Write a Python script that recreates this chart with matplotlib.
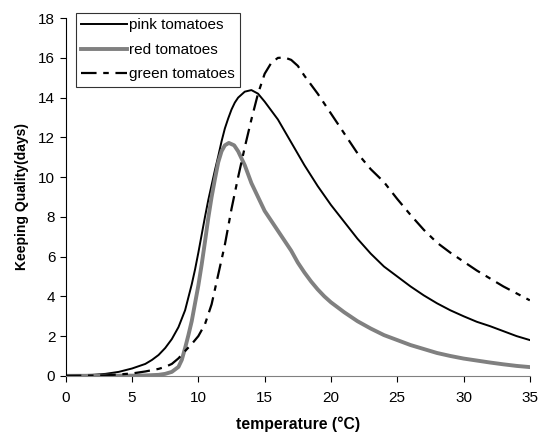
import matplotlib
matplotlib.use("Agg")
import matplotlib.pyplot as plt

plt.rcParams['font.family'] = ['Liberation Sans', 'DejaVu Sans']

# pink tomatoes
pink_x = [0, 2, 3, 4, 5, 6, 6.5, 7, 7.5, 8, 8.5, 9, 9.25, 9.5, 9.75, 10, 10.25, 10.5, 10.75,
          11, 11.25, 11.5, 11.75, 12, 12.25, 12.5, 12.75, 13, 13.5, 14, 14.5, 15, 15.5, 16,
          17, 18, 19, 20, 21, 22, 23, 24, 25, 26, 27, 28, 29, 30, 31, 32, 33, 34, 35]
pink_y = [0.02, 0.05, 0.1, 0.2, 0.37, 0.6, 0.8, 1.05, 1.4, 1.85, 2.45, 3.3, 3.95, 4.6, 5.35,
          6.2, 7.1, 8.0, 8.85, 9.6, 10.35, 11.05, 11.8, 12.45, 12.95, 13.4, 13.75, 14.0, 14.3,
          14.38, 14.2, 13.8, 13.35, 12.9, 11.75, 10.6, 9.55, 8.6, 7.75, 6.9, 6.15, 5.5, 5.0,
          4.5, 4.05, 3.65, 3.3, 3.0, 2.72, 2.5, 2.25, 2.0, 1.8]

# red tomatoes
red_x = [0, 5, 6, 7, 7.5, 8, 8.5, 8.75, 9, 9.25, 9.5, 9.75, 10, 10.25, 10.5, 10.75, 11, 11.25,
         11.5, 11.75, 12, 12.3, 12.7, 13, 13.5, 14, 14.5, 15, 15.5, 16, 16.5, 17, 17.5, 18,
         18.5, 19, 19.5, 20, 20.5, 21, 22, 23, 24, 25, 26, 27, 28, 29, 30, 31, 32, 33, 34, 35]
red_y = [0, 0.01, 0.02, 0.05, 0.1, 0.2, 0.45, 0.8, 1.4, 2.05, 2.75, 3.65, 4.55, 5.6, 6.75,
         7.95, 9.0, 9.9, 10.75, 11.3, 11.6, 11.72, 11.6, 11.3, 10.6, 9.7, 9.0, 8.3, 7.8, 7.3,
         6.8, 6.3, 5.7, 5.2, 4.75, 4.35, 4.0, 3.7, 3.45, 3.2, 2.75, 2.38, 2.05, 1.8, 1.55, 1.35,
         1.15, 1.0, 0.87, 0.77, 0.67, 0.58, 0.5, 0.44]

# green tomatoes
green_x = [0, 3, 5, 6, 7, 7.5, 8, 8.5, 9, 9.5, 10, 10.5, 11, 11.5, 12, 12.5, 13, 13.5, 14,
           14.5, 15, 15.5, 16, 16.5, 17, 17.5, 18, 19, 20, 21, 22, 23, 24, 25, 26, 27, 28,
           29, 30, 31, 32, 33, 34, 35]
green_y = [0, 0.02, 0.12, 0.22, 0.35, 0.45, 0.6, 0.88, 1.25, 1.6, 2.0, 2.6, 3.6, 5.1, 6.6,
           8.4, 10.0, 11.5, 12.9, 14.2, 15.2, 15.75, 16.0, 16.02, 15.9, 15.6, 15.1, 14.2, 13.2,
           12.2, 11.2, 10.4, 9.75, 8.9, 8.1, 7.35, 6.7, 6.2, 5.75, 5.3, 4.9, 4.5, 4.15, 3.8]

fig = plt.figure(figsize=(5.39, 4.32), dpi=100)
ax = fig.add_axes([0.122, 0.13, 0.861, 0.828])

ax.plot(pink_x, pink_y, color='black', lw=1.4, label='pink tomatoes')
ax.plot(red_x, red_y, color='#808080', lw=2.8, label='red tomatoes')
ax.plot(green_x, green_y, color='black', lw=1.6, dashes=(7, 3, 2.5, 3), label='green tomatoes')

ax.set_xlim(0, 35)
ax.set_ylim(0, 18)
ax.set_xticks(range(0, 36, 5))
ax.set_yticks(range(0, 19, 2))

ax.spines['top'].set_visible(False)
ax.spines['right'].set_visible(False)
ax.spines['left'].set_color('black')
ax.spines['bottom'].set_color('#808080')
ax.tick_params(axis='both', direction='out', length=4, labelsize=11)
ax.tick_params(axis='x', color='black', pad=7)

ax.set_xlabel('temperature (\u00b0C)', fontsize=11.3, fontweight='bold', labelpad=8)
ax.set_ylabel('Keeping Quality(days)', fontsize=10, fontweight='bold', labelpad=7)

leg = ax.legend(loc='upper left', bbox_to_anchor=(0.022, 1.014), fontsize=11, frameon=True,
                fancybox=False, handlelength=3.0, handletextpad=0.1, borderpad=0.35,
                labelspacing=0.68, borderaxespad=0)
leg.get_frame().set_edgecolor('black')
leg.get_frame().set_linewidth(0.8)

fig.savefig('out.png', dpi=100)
